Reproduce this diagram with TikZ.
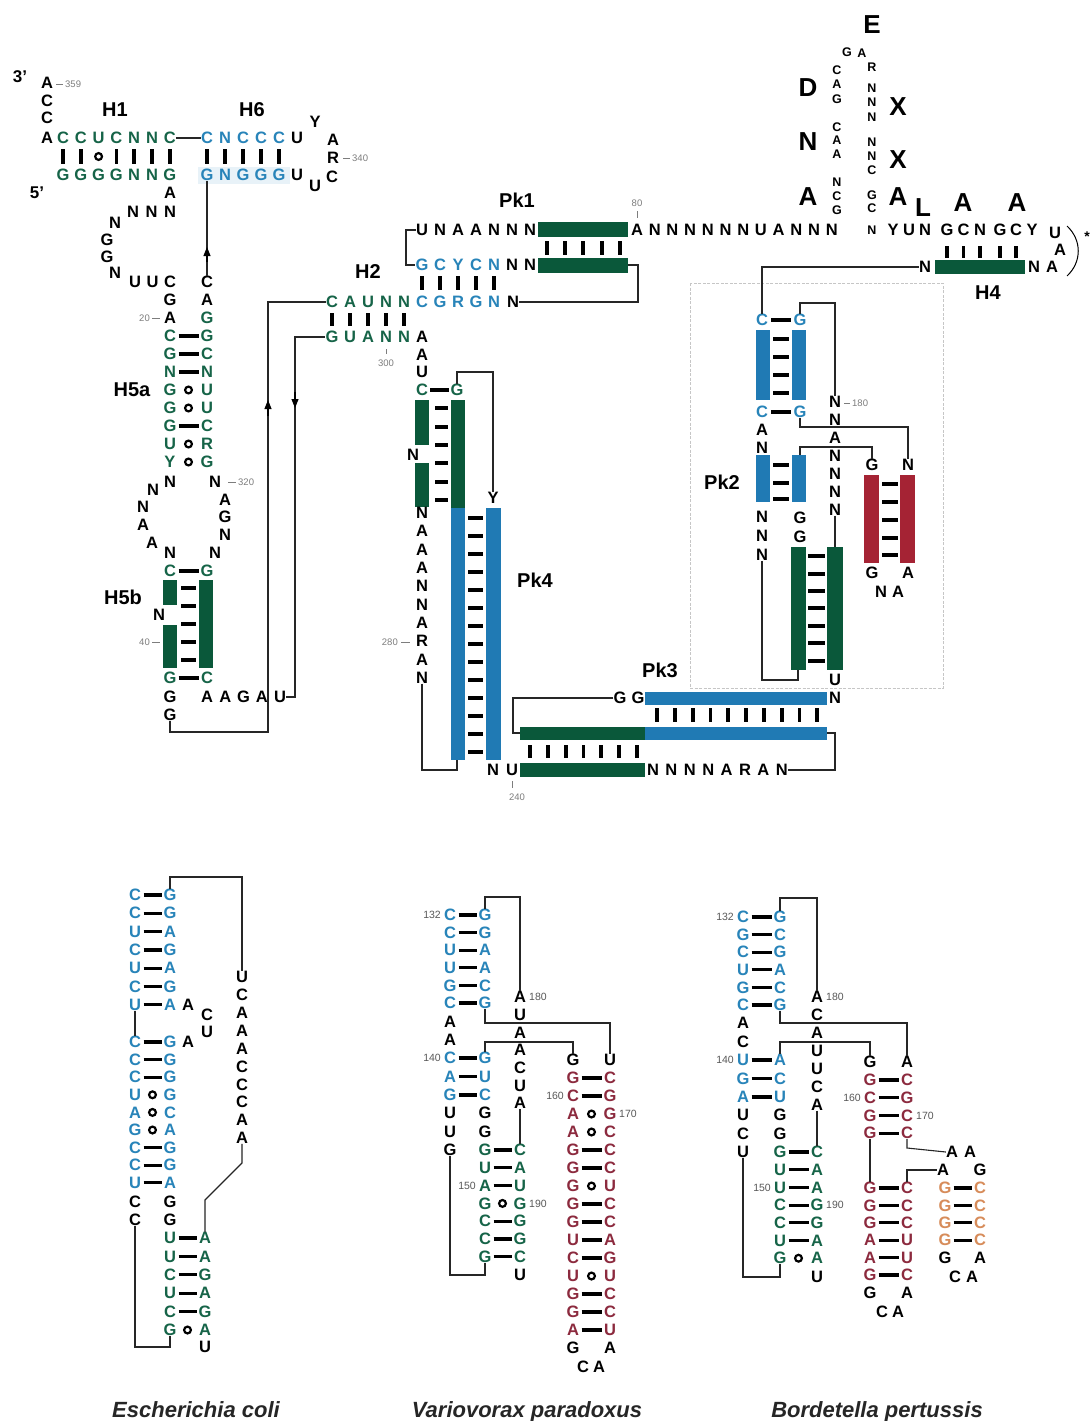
\documentclass[tikz,border=0pt]{standalone}
\usepackage{fontspec}
\setmainfont{Liberation Sans}
\usetikzlibrary{arrows.meta}
\definecolor{gL}{RGB}{22,100,72}
\definecolor{gB}{RGB}{10,88,58}
\definecolor{bL}{RGB}{40,132,185}
\definecolor{bB}{RGB}{32,122,180}
\definecolor{rB}{RGB}{165,35,52}
\definecolor{rL}{RGB}{140,42,62}
\definecolor{oL}{RGB}{215,140,90}
\definecolor{numc}{RGB}{125,125,125}
\definecolor{hlb}{RGB}{232,242,248}
\tikzset{
 nt/.style={font=\fontsize{16.5}{16.5}\selectfont\bfseries, inner sep=0pt},
 sm/.style={font=\fontsize{12.5}{12.5}\selectfont\bfseries, inner sep=0pt},
 big/.style={font=\fontsize{26}{26}\selectfont\bfseries, inner sep=0pt},
 lab/.style={font=\fontsize{20}{20}\selectfont\bfseries, inner sep=0pt},
 prime/.style={font=\fontsize{17}{17}\selectfont\bfseries, inner sep=0pt},
 num/.style={font=\fontsize{9.5}{9.5}\selectfont, text=numc, inner sep=0pt},
 numb/.style={font=\fontsize{10.5}{10.5}\selectfont, text=black!65, inner sep=0pt},
 ttl/.style={font=\fontsize{22}{22}\selectfont\bfseries\itshape, inner sep=0pt, anchor=base, text=black!85},
 conn/.style={line width=1.1pt, black!85},
 tick/.style={line width=0.5pt, numc},
 rung/.style={line width=3.8pt},
 bp/.style={line width=3.2pt},
 wob/.style={line width=2.2pt},
 arr/.style={-{Triangle[length=9pt,width=7pt]}, line width=1.1pt},
 dbox/.style={draw=gray!45, line width=0.6pt, dash pattern=on 3pt off 1.5pt}
}
\newcommand\hseq[6]{\foreach \ltr [count=\ii] in {#6}{\node[nt,#5] (#1\ii) at ({#2+(\ii-1)*(#4)},{#3}) {\ltr};}}
\newcommand\vseq[6]{\foreach \ltr [count=\ii] in {#6}{\node[nt,#5] (#1\ii) at ({#2},{#3+(\ii-1)*(#4)}) {\ltr};}}
\newcommand\pairs[7]{\foreach \pA/\pS/\pB [count=\ii] in {#7}{%
 \pgfmathsetmacro\yy{#4+(\ii-1)*(#5)}%
 \node[nt,#6] (#1L\ii) at (#2,\yy) {\pA};
 \node[nt,#6] (#1R\ii) at (#3,\yy) {\pB};
 \if\pS o\draw[wob] ({(#2+#3)/2},\yy) circle (3.4pt);\else\if\pS n\else\draw[bp] ({#2+8.5},\yy) -- ({#3-8.5},\yy);\fi\fi}}
\begin{document}
\begin{tikzpicture}[x=1pt,y=-1pt]
\useasboundingbox (0,0) rectangle (1091,1421);
\fill[white] (0,0) rectangle (1091,1421);

%%%%%%%%%%%%%%%% H1 / H6
\fill[hlb] (198,167) rectangle (290,184);
\node[prime] (p3) at (20,77) {3’};
\node[prime] (p5) at (37,193) {5’};
\vseq{tc}{47}{83}{17.5}{}{A,C,C}
\node[nt] (tcA) at (47,138) {A};
\draw[tick] (56,84) -- (63,84); \node[num,anchor=west] (n359) at (65,84) {359};
\node[lab] (H1) at (115,110) {H1};
\node[lab] (H6) at (252,110) {H6};
\hseq{h1t}{63}{138}{17.8}{text=gL}{C,C,U,C,N,N,C}
\hseq{h1b}{63}{175}{17.8}{text=gL}{G,G,G,G,N,N,G}
\hseq{h6t}{207}{138}{18}{text=bL}{C,N,C,C,C}
\hseq{h6b}{207}{175}{18}{text=bL}{G,N,G,G,G}
\node[nt] (lU1) at (297,138) {U};
\node[nt] (lY) at (315,122) {Y};
\node[nt] (lA) at (333,140) {A};
\node[nt] (lR) at (333,158) {R};
\node[nt] (lC) at (332,177) {C};
\node[nt] (lU3) at (315,186) {U};
\node[nt] (lU2) at (297,175) {U};
\draw[tick] (343,158) -- (350,158); \node[num,anchor=west] (n340) at (352,158) {340};
\draw[conn] (h1t7) -- (h6t1);
\foreach \xx in {63,80.8,116.4,134.2,152,169.8} \draw[rung] (\xx,149) -- (\xx,164);
\draw[wob] (98.6,156.5) circle (3.4pt);
\foreach \xx in {207,225,243,261,279} \draw[rung] (\xx,149) -- (\xx,164);

%%%%%%%%%%%%%%%% loop below H1
\node[nt] (jA) at (170,193) {A};
\hseq{jN}{133}{212}{18.5}{}{N,N,N}
\node[nt] (jN4) at (115,223) {N};
\node[nt] (jG1) at (107,240) {G};
\node[nt] (jG2) at (107,257) {G};
\node[nt] (jN5) at (115,273) {N};
\hseq{jU}{135}{282}{17.5}{}{U,U,C}
\node[nt] (jG3) at (170,300) {G};
\node[nt] (jA2) at (170,318) {A};
\node[nt] (kC) at (207,282) {C};
\node[nt] (kA) at (207,300) {A};
\node[nt,text=gL] (kG) at (207,318) {G};
\node[num,anchor=east] (n20) at (150,318) {20}; \draw[tick] (152,318) -- (160,318);
\draw[conn] (kC.north) -- (h6b1.south);
\draw[arr] (207,262) -- (207,247);

%%%%%%%%%%%%%%%% H5a
\pairs{h5}{170}{207}{336}{18}{text=gL}{C/-/G,G/-/C,N/-/N,G/o/U,G/o/U,G/-/C,U/o/R,Y/o/G}
\node[lab] (H5a) at (132,390) {H5a};
\node[nt] (mN1) at (170,482) {N};
\node[nt] (mN2) at (215,482) {N};
\draw[tick] (228,482) -- (236,482); \node[num,anchor=west] (n320) at (238,482) {320};
\node[nt] (mN3) at (153,490) {N};
\node[nt] (mN4) at (143,507) {N};
\node[nt] (mA1) at (143,525) {A};
\node[nt] (mA2) at (152,543) {A};
\node[nt] (mN5) at (170,553) {N};
\node[nt] (mA3) at (225,500) {A};
\node[nt] (mG1) at (225,517) {G};
\node[nt] (mN6) at (225,535) {N};
\node[nt] (mN7) at (215,553) {N};

%%%%%%%%%%%%%%%% H5b
\pairs{h5b}{170}{207}{571}{18}{text=gL}{C/-/G}
\fill[gB] (163,580) rectangle (177,605);
\fill[gB] (163,625) rectangle (177,668);
\fill[gB] (199,580) rectangle (213,668);
\node[nt] (h5bN) at (159,615) {N};
\foreach \yy in {588,606,624,642,660} \draw[rung] (181,\yy) -- (196,\yy);
\node[lab] (H5b) at (123,597) {H5b};
\node[num,anchor=east] (n40) at (150,642) {40}; \draw[tick] (152,642) -- (160,642);
\pairs{h5c}{170}{207}{678}{18}{text=gL}{G/-/C}
\node[nt] (gG1) at (170,697) {G};
\hseq{gU}{207}{697}{18.3}{}{A,A,G,A,U}
\node[nt] (gG3) at (170,715) {G};

%%%%%%%%%%%%%%%% H2 / Pk1
\node[lab] (H2) at (368,272) {H2};
\hseq{h2t}{332}{302}{18}{text=gL}{C,A,U,N,N}
\hseq{h2c}{422}{302}{18}{text=bL}{C,G,R,G,N}
\node[nt] (h2N) at (513,302) {N};
\hseq{h2b}{332}{337}{18}{text=gL}{G,U,A,N,N}
\foreach \xx in {332,350,368,386,404} \draw[rung] (\xx,313) -- (\xx,326);
\hseq{p1b}{422}{265}{18}{text=bL}{G,C,Y,C,N}
\hseq{p1n}{512}{265}{18}{}{N,N}
\foreach \xx in {422,440,458,476,494} \draw[rung] (\xx,276) -- (\xx,290);
\fill[gB] (538,258) rectangle (628,273);
\coordinate (pk1E) at (628,265);
\hseq{p1t}{422}{230}{18}{}{U,N,A,A,N,N,N}
\fill[gB] (538,222) rectangle (628,237);
\foreach \xx in {547,565,583,602,620} \draw[rung] (\xx,241) -- (\xx,255);
\hseq{p1r}{637}{230}{17.7}{}{A,N,N,N,N,N,N,U,A,N,N,N}
\node[num] (n80) at (637,203) {80}; \draw[tick] (637,211) -- (637,218);
\node[lab] (Pk1) at (517,200) {Pk1};
\draw[conn] (p1t1.west) -- (406,230) -- (406,265) -- (p1b1.west);
\draw[conn] (pk1E) -- (638,265) -- (638,302) -- (h2N.east);
\draw[conn] (gG3.south) -- (170,732) -- (268,732) -- (268,302) -- (h2t1.west);
\draw[arr] (268,416) -- (268,400);
\draw[conn] (gU5.east) -- (295,697) -- (295,337) -- (h2b1.west);
\draw[arr] (295,392) -- (295,408);

%%%%%%%%%%%%%%%% top right hairpin
\vseq{cl}{837}{70}{14.5}{sm}{C,A,G}
\vseq{cm}{837}{127}{13.5}{sm}{C,A,A}
\vseq{cn}{837}{182}{14}{sm}{N,C,G}
\node[sm] (cGa) at (847,52) {G};
\node[sm] (cAa) at (862,53) {A};
\node[sm] (cR) at (872,67) {R};
\vseq{rr}{872}{88}{14.5}{sm}{N,N,N}
\vseq{rs}{872}{142}{14}{sm}{N,N,C}
\vseq{rt}{872}{195}{13.5}{sm}{G,C}
\node[sm] (rN) at (872,230) {N};
\node[big] (bE) at (872,25) {E};
\node[big] (bD) at (808,88) {D};
\node[big] (bN) at (808,142) {N};
\node[big] (bA1) at (808,197) {A};
\node[big] (bX1) at (898,107) {X};
\node[big] (bX2) at (898,160) {X};
\node[big] (bA2) at (898,197) {A};
\node[big] (bL) at (923,208) {L};
\node[big] (bA3) at (963,203) {A};
\node[big] (bA4) at (1017,203) {A};
\hseq{yun}{893}{230}{16}{}{Y,U,N}
\hseq{gcn}{947}{230}{16.5}{}{G,C,N}
\hseq{gcy}{1000}{230}{16}{}{G,C,Y}
\node[nt] (h4U) at (1055,233) {U};
\node[nt] (h4A1) at (1060,250) {A};
\node[nt] (h4A2) at (1052,267) {A};
\node[nt] (h4N2) at (1034,267) {N};
\node[nt] (h4N) at (925,267) {N};
\foreach \xx in {947,963.5,980,1000,1016} \draw[rung] (\xx,246) -- (\xx,258);
\fill[gB] (935,260) rectangle (1025,274);
\draw[line width=1pt] (1067,226) .. controls (1082,240) and (1082,262) .. (1067,276);
\node[font=\fontsize{14}{14}\selectfont\bfseries, inner sep=0pt] (star) at (1087,237) {*};
\node[lab] (H4) at (988,293) {H4};

%%%%%%%%%%%%%%%% Pk2 region
\draw[dbox] (690,283) rectangle (943,688);
\node[nt,text=bL] (qC1) at (762,320) {C};
\node[nt,text=bL] (qG1) at (800,320) {G};
\draw[bp] (771,320) -- (791,320);
\fill[bB] (756,330) rectangle (770,400);
\fill[bB] (792,330) rectangle (806,400);
\foreach \yy in {339,357,375,393} \draw[rung] (773,\yy) -- (789,\yy);
\node[nt,text=bL] (qC2) at (762,412) {C};
\node[nt,text=bL] (qG2) at (800,412) {G};
\draw[bp] (771,412) -- (791,412);
\draw[conn] (h4N.west) -- (762,267) -- (qC1.north);
\node[nt] (qN1) at (835,402) {N};
\draw[tick] (844,403) -- (850,403); \node[num,anchor=west] (n180) at (852,403) {180};
\draw[conn] (qG1.north) -- (800,303) -- (835,303) -- (qN1.north);
\vseq{qm}{835}{420}{18}{}{N,A,N,N,N,N}
\vseq{qa}{762}{430}{18}{}{A,N}
\node[nt] (rG) at (872,465) {G};
\node[nt] (rNn) at (908,465) {N};
\draw[conn] (qG2.south) -- (800,427) -- (908,427) -- (rNn.north);
\fill[bB] (756,455) rectangle (770,502);
\fill[bB] (792,455) rectangle (806,502);
\coordinate (pk2T) at (800,455);
\foreach \yy in {465,483,499} \draw[rung] (773,\yy) -- (789,\yy);
\draw[conn] (pk2T) -- (800,447) -- (872,447) -- (rG.north);
\node[lab] (Pk2) at (722,482) {Pk2};
\vseq{qn}{762}{517}{19}{}{N,N,N}
\vseq{qg}{800}{518}{19}{}{G,G}
\fill[gB] (791,547) rectangle (806,670);
\fill[gB] (827,547) rectangle (843,670);
\coordinate (gbT) at (835,547);
\coordinate (gbB) at (798,670);
\foreach \yy in {556,574,591,608,626,643,661} \draw[rung] (808,\yy) -- (825,\yy);
\draw[conn] (qm6.south) -- (gbT);
\draw[conn] (qn3.south) -- (762,680) -- (798,680) -- (gbB);
\node[nt] (qU) at (835,680) {U};
\node[nt] (qN) at (835,698) {N};
\fill[rB] (864,475) rectangle (879,563);
\fill[rB] (900,475) rectangle (915,563);
\foreach \yy in {484,502,520,538,555} \draw[rung] (882,\yy) -- (898,\yy);
\node[nt] (rG2) at (872,573) {G};
\node[nt] (rA2) at (908,573) {A};
\node[nt] (rN3) at (881,592) {N};
\node[nt] (rA3) at (898,592) {A};

%%%%%%%%%%%%%%%% Pk4
\node[nt] (sA0) at (422,337) {A};
\node[nt] (sA1) at (422,355) {A};
\node[nt] (sU) at (422,372) {U};
\node[nt,text=gL] (sC) at (422,390) {C};
\node[nt,text=gL] (sG) at (457,390) {G};
\draw[bp] (430,390) -- (449,390);
\node[nt] (sY) at (493,498) {Y};
\draw[conn] (sG.north) -- (457,372) -- (493,372) -- (sY.north);
\node[num] (n300) at (386,363) {300}; \draw[tick] (386,349) -- (386,354);
\fill[gB] (415,400) rectangle (429,445);
\fill[gB] (415,463) rectangle (429,507);
\node[nt] (sN) at (413,455) {N};
\fill[gB] (451,400) rectangle (465,508);
\fill[bB] (451,508) rectangle (465,760);
\foreach \yy in {408,427,445,463,482,500} \draw[rung] (435,\yy) -- (448,\yy);
\vseq{sL}{422}{513}{18.3}{}{N,A,A,A,N,N,A,R,A,N}
\node[num,anchor=east] (n280) at (398,642) {280}; \draw[tick] (401,642) -- (410,642);
\fill[bB] (486,508) rectangle (501,760);
\foreach \k in {0,...,13} \draw[rung] (468,{518+\k*18}) -- (483,{518+\k*18});
\node[lab] (Pk4) at (535,580) {Pk4};
\coordinate (pk4B) at (457,760);
\draw[conn] (sL10.south) -- (422,770) -- (457,770) -- (pk4B);
\node[nt] (uN) at (493,770) {N};
\node[nt] (uU) at (512,770) {U};
\node[num] (n240) at (517,797) {240}; \draw[tick] (512,781) -- (512,788);

%%%%%%%%%%%%%%%% Pk3
\fill[gB] (520,763) rectangle (645,777);
\hseq{tN}{653}{770}{18.4}{}{N,N,N,N,A,R,A,N}
\fill[gB] (520,727) rectangle (645,740);
\fill[bB] (645,727) rectangle (827,740);
\coordinate (midL) at (520,733);
\coordinate (midR) at (827,733);
\foreach \k in {0,...,6} \draw[rung] ({530+\k*17.8},745) -- ({530+\k*17.8},758);
\fill[bB] (645,692) rectangle (827,705);
\hseq{tg}{620}{698}{18}{}{G,G}
\foreach \k in {0,...,9} \draw[rung] ({657+\k*17.8},708) -- ({657+\k*17.8},722);
\node[lab] (Pk3) at (660,670) {Pk3};
\draw[conn] (tg1.west) -- (513,698) -- (513,733) -- (midL);
\draw[conn] (midR) -- (835,733) -- (835,770) -- (tN8.east);

%%%%%%%%%%%%%%%% E. coli
\pairs{ea}{135}{170}{895}{18.3}{text=bL}{C/-/G,C/-/G,U/-/A,C/-/G,U/-/A,C/-/G,U/-/A}
\node[nt] (eA1) at (188,1005) {A};
\node[nt] (eC1) at (207,1015) {C};
\node[nt] (eU1) at (207,1032) {U};
\node[nt] (eA2) at (188,1042) {A};
\pairs{eb}{135}{170}{1042}{17.6}{text=bL}{C/-/G,C/-/G,C/-/G,U/o/G,A/o/C,G/o/A,C/-/G,C/-/G,U/-/A}
\draw[conn] (eaL7.south) -- (ebL1.north);
\pairs{ec}{135}{170}{1202}{18}{}{C/n/G,C/n/G}
\pairs{ed}{170}{205}{1238}{18.4}{text=gL}{U/-/A,U/-/A,C/-/G,U/-/A,C/-/G,G/o/A}
\node[nt] (eU2) at (205,1347) {U};
\vseq{el}{242}{977}{17.9}{}{U,C,A,A,A,C,C,C,A,A}
\draw[conn] (eaR1.north) -- (170,877) -- (242,877) -- (el1.north);
\draw[conn] (el10.south) -- (242,1163) -- (205,1200) -- (edR1.north);
\draw[conn] (ecL2.south) -- (135,1347) -- (170,1347) -- (edL6.south);

%%%%%%%%%%%%%%%% V. paradoxus
\pairs{va}{450}{485}{915}{17.6}{text=bL}{C/-/G,C/-/G,U/-/A,U/-/A,G/-/C,C/-/G}
\node[numb,anchor=east] (v132) at (441,915) {132};
\vseq{vaa}{450}{1022}{18}{}{A,A}
\pairs{vb}{450}{485}{1058}{18.5}{text=bL}{C/-/G,A/-/U,G/-/C}
\node[numb,anchor=east] (v140) at (441,1058) {140};
\vseq{vu}{450}{1113}{18.5}{}{U,U,G}
\vseq{vg}{485}{1113}{18.5}{}{G,G}
\pairs{vc}{485}{520}{1150}{17.8}{text=gL}{G/-/C,U/-/A,A/-/U,G/o/G,C/-/G,C/-/G,G/-/C}
\node[numb,anchor=east] (v150) at (476,1185.6) {150};
\node[numb,anchor=west] (v190) at (529,1203.4) {190};
\node[nt] (vU2) at (520,1275) {U};
\vseq{vm}{520}{997}{17.7}{}{A,U,A,A,C,U,A}
\node[numb,anchor=west] (v180) at (529,997) {180};
\draw[conn] (vm7.south) -- (vcR1.north);
\node[nt] (vrG) at (573,1060) {G};
\node[nt] (vrU) at (610,1060) {U};
\draw[conn] (vaR1.north) -- (485,897) -- (520,897) -- (vm1.north);
\draw[conn] (vaR6.south) -- (485,1023) -- (610,1023) -- (vrU.north);
\draw[conn] (vbR1.north) -- (485,1042) -- (573,1042) -- (vrG.north);
\draw[conn] (vu3.south) -- (450,1275) -- (485,1275) -- (vcL7.south);
\pairs{vr}{573}{610}{1078}{18}{text=rL}{G/-/C,C/-/G,A/o/G,A/o/C,G/-/C,G/-/C,G/o/U,G/-/C,G/-/C,U/-/A,C/-/G,U/o/U,G/-/C,G/-/C,A/-/U}
\node[numb,anchor=east] (v160) at (564,1096) {160};
\node[numb,anchor=west] (v170) at (619,1114) {170};
\node[nt] (vG9) at (573,1348) {G};
\node[nt] (vA9) at (610,1348) {A};
\node[nt] (vC9) at (583,1367) {C};
\node[nt] (vA8) at (599,1367) {A};

%%%%%%%%%%%%%%%% B. pertussis
\pairs{ba}{743}{780}{917}{17.6}{text=bL}{C/-/G,G/-/C,C/-/G,U/-/A,G/-/C,C/-/G}
\node[numb,anchor=east] (b132) at (734,917) {132};
\vseq{baa}{743}{1023}{19}{}{A,C}
\pairs{bb}{743}{780}{1060}{18.5}{text=bL}{U/-/A,G/-/C,A/-/U}
\node[numb,anchor=east] (b140) at (734,1060) {140};
\vseq{bu}{743}{1115}{18.5}{}{U,C,U}
\vseq{bg}{780}{1115}{18.5}{}{G,G}
\pairs{bc}{780}{817}{1152}{17.7}{text=gL}{G/-/C,U/-/A,U/-/A,C/-/G,C/-/G,U/-/A,G/o/A}
\node[numb,anchor=east] (b150) at (771,1187.4) {150};
\node[numb,anchor=west] (b190) at (826,1205.1) {190};
\node[nt] (bU2) at (817,1277) {U};
\vseq{bm}{817}{997}{18}{}{A,C,A,U,U,C,A}
\node[numb,anchor=west] (b180) at (826,997) {180};
\draw[conn] (bm7.south) -- (bcR1.north);
\node[nt] (brG) at (870,1062) {G};
\node[nt] (brA) at (907,1062) {A};
\draw[conn] (baR1.north) -- (780,898) -- (817,898) -- (bm1.north);
\draw[conn] (baR6.south) -- (780,1023) -- (907,1023) -- (brA.north);
\draw[conn] (bbR1.north) -- (780,1042) -- (870,1042) -- (brG.north);
\draw[conn] (bu3.south) -- (743,1277) -- (780,1277) -- (bcL7.south);
\pairs{br}{870}{907}{1080}{17.7}{text=rL}{G/-/C,C/-/G,G/-/C,G/-/C}
\node[numb,anchor=east] (b160) at (861,1097.7) {160};
\node[numb,anchor=west] (b170) at (916,1115.4) {170};
\hseq{bAA}{952}{1152}{18}{}{A,A}
\node[nt] (bA3) at (943,1170) {A};
\node[nt] (bG3) at (980,1170) {G};
\pairs{bs}{870}{907}{1188}{17.4}{text=rL}{G/-/C,G/-/C,G/-/C,A/-/U,A/-/U,G/-/C}
\pairs{bo}{945}{980}{1188}{17.4}{text=oL}{G/-/C,G/-/C,G/-/C,G/-/C}
\draw[conn] (brL4.south) -- (bsL1.north);
\draw[conn] (brR4.south) -- (907,1148) -- (bAA1.west);
\draw[conn] (bsR1.north) -- (907,1170) -- (bA3.west);
\node[nt] (bG9) at (870,1293) {G};
\node[nt] (bA9) at (907,1293) {A};
\node[nt] (bC9) at (882,1312) {C};
\node[nt] (bA8) at (898,1312) {A};
\node[nt] (bG8) at (945,1258) {G};
\node[nt] (bA7) at (980,1258) {A};
\node[nt] (bC7) at (955,1277) {C};
\node[nt] (bA6) at (972,1277) {A};

%%%%%%%%%%%%%%%% titles
\node[ttl] (tE) at (196,1417) {Escherichia coli};
\node[ttl] (tV) at (527,1417) {Variovorax paradoxus};
\node[ttl] (tB) at (877,1417) {Bordetella pertussis};
\end{tikzpicture}
\end{document}
